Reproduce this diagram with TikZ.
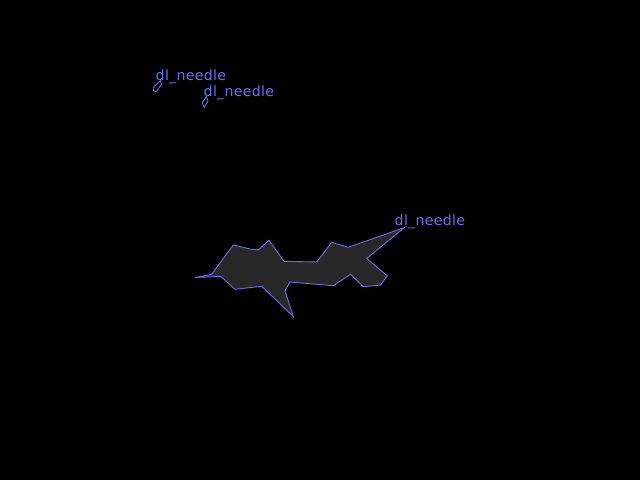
\documentclass[tikz,border=0pt]{standalone}
\usepackage{fontspec}
\setmainfont{DejaVu Sans}[LetterSpace=2]
\definecolor{lbl}{RGB}{108,108,235}
\definecolor{blob}{RGB}{40,40,40}
\begin{document}
\begin{tikzpicture}[x=1pt,y=-1pt,
  outline/.style={draw=lbl,line width=0.9pt,line join=miter},
  lab/.style={text=lbl,font=\fontsize{14.2}{16}\selectfont,inner sep=0pt,anchor=base west}]
\fill[black] (0,0) rectangle (640,480);
\useasboundingbox (0,0) rectangle (640,480);
% big needle region
\path[outline,fill=blob] (195,277.5) -- (211.7,274.3) -- (233.3,245) -- (250,249) -- (258.3,250) -- (269,240.3)
  -- (284,261.3) -- (316.7,262) -- (331.7,242.3) -- (348.3,247.3) -- (404.5,227.5)
  -- (366.7,258.5) -- (387.3,275.8) -- (380.5,285) -- (363.3,286.7) -- (350.5,274.3)
  -- (333.3,285.7) -- (290,282) -- (285,291) -- (293.3,316.5) -- (261.7,286.3)
  -- (235,289.3) -- (220.7,276.3) -- cycle;
% small needles
\path[outline] (160.5,80.5) -- (154,86.5) -- (153.5,90.5) -- (156,92) -- (161.5,84.5) -- cycle;
\path[outline] (206.5,96.8) -- (202.3,102.5) -- (204,107.5) -- (208,101) -- cycle;
\node[lab] (t1) at (155.5,80.8) {dl\_needle};
\node[lab] (t2) at (203.5,96.8) {dl\_needle};
\node[lab] (t3) at (394.5,225.3) {dl\_needle};
\end{tikzpicture}
\end{document}
